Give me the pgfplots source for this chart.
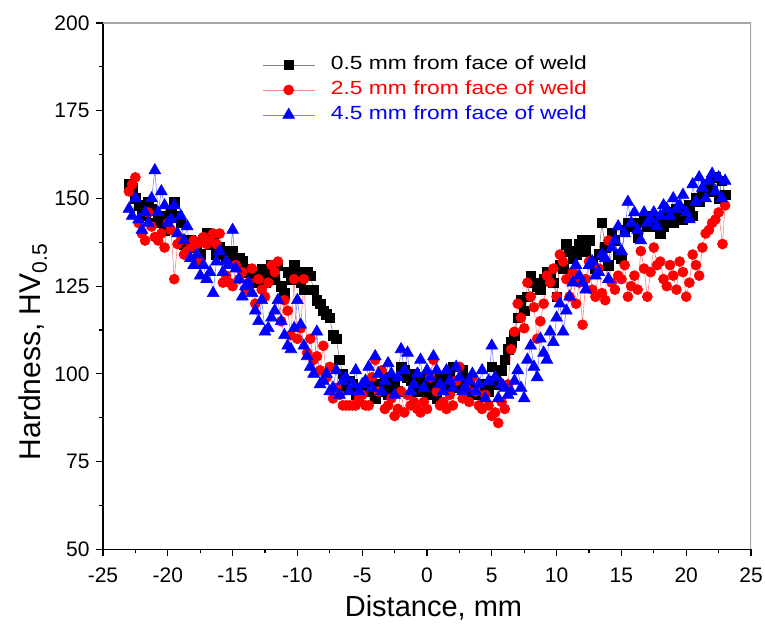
\documentclass[border=0pt]{standalone}
\usepackage{pgfplots}
\pgfplotsset{compat=1.18}
\usepackage{fontspec}
\setmainfont{Liberation Sans}
\newfontfamily\legfont[FakeStretch=1.2]{Liberation Sans}
\begin{document}
\begin{tikzpicture}
\path[use as bounding box] (-103pt,-80pt) rectangle (662pt,549.3pt);
\begin{axis}[
  scale only axis, width=648pt, height=526.3pt,
  xmin=-25, xmax=25, ymin=50, ymax=200,
  xtick={-25,-20,...,25}, ytick={50,75,...,200},
  minor x tick num=1, minor y tick num=1,
  axis x line*=bottom, axis y line*=left,
  axis line style={line width=1.4pt, black},
  tick align=outside, major tick length=7pt, minor tick length=4pt,
  every tick/.style={black, line width=1.2pt},
  tick label style={font=\fontsize{21}{21}\selectfont},
  /pgf/number format/assume math mode=true,
  xticklabel style={yshift=-8pt},
  yticklabel style={xshift=-3pt},
  xlabel={Distance, mm},
  ylabel={Hardness, HV\textsubscript{0.5}},
  xlabel style={font=\fontsize{29}{29}\selectfont, at={(axis description cs:0.51,-0.112)}, anchor=center},
  ylabel style={font=\fontsize{30}{30}\selectfont, at={(axis description cs:-0.108,0.375)}, anchor=center},
  legend style={at={(axis description cs:0.241,0.943)}, anchor=north west, draw=none, fill=none,
    font=\legfont\fontsize{19}{19}\selectfont, row sep=5.5pt, column sep=15pt,
    nodes={inner sep=1pt, text height=13.5pt, text depth=4pt}},
  legend cell align=left,
  legend image code/.code={\draw[mark repeat=2,mark phase=2,#1] plot coordinates {(0pt,0pt) (26pt,0pt) (52pt,0pt)};},
]
\draw[line width=1.2pt, black!35] (rel axis cs:0,1) -- (rel axis cs:1,1) -- (rel axis cs:1,0);
\addplot[color=black!50, line width=0.6pt, mark=square*, mark size=4.8pt, mark options={black, fill=black, solid}] table {
x y
-23 154
-22.75 153
-22.5 150
-22.25 148
-22 146
-21.75 145
-21.5 149
-21.25 147
-21 143
-20.75 144
-20.5 145
-20.25 141
-20 142
-19.75 146
-19.5 149
-19.25 145
-19 143
-18.75 137
-18.5 138
-18.25 138
-18 136
-17.75 137
-17.5 134
-17.25 138
-17 140
-16.75 137
-16.5 139
-16.25 134
-16 136
-15.75 135
-15.5 133
-15.25 132
-15 135
-14.75 131
-14.5 133
-14.25 132
-14 130
-13.75 129
-13.5 128
-13.25 126
-13 128
-12.75 130
-12.5 126
-12.25 129
-12 131
-11.75 127
-11.5 131
-11.25 125
-11 123
-10.75 129
-10.5 127
-10.25 131
-10 129
-9.75 126
-9.5 124
-9.25 129
-9 128
-8.75 124
-8.5 121
-8.25 120
-8 118
-7.75 117
-7.5 116
-7.25 111
-7 110
-6.75 104
-6.5 100
-6.25 96
-6 98
-5.75 97
-5.5 94
-5.25 93
-5 96
-4.75 95
-4.5 96
-4.25 98
-4 93
-3.75 95
-3.5 97
-3.25 99
-3 94
-2.75 96
-2.5 98
-2.25 95
-2 102
-1.75 101
-1.5 99
-1.25 98
-1 100
-0.75 95
-0.5 97
-0.25 99
0 94
0.25 96
0.5 97
0.75 93
1 99
1.25 97
1.5 96
1.75 100
2 102
2.25 96
2.5 98
2.75 101
3 97
3.25 98
3.5 95
3.75 94
4 96
4.25 97
4.5 97
4.75 95
5 102
5.25 98
5.5 97
5.75 101
6 104
6.25 107
6.5 109
6.75 111
7 116
7.25 121
7.5 118
7.75 122
8 128
8.25 126
8.5 125
8.75 124
9 127
9.25 129
9.5 128
9.75 126
10 122
10.25 131
10.5 130
10.75 137
11 135
11.25 133
11.5 134
11.75 137
12 138
12.25 135
12.5 138
12.75 132
13 130
13.25 134
13.5 143
13.75 136
14 131
14.25 140
14.5 138
14.75 134
15 133
15.25 141
15.5 143
15.75 142
16 143
16.25 139
16.5 143
16.75 144
17 142
17.25 145
17.5 142
17.75 143
18 140
18.25 142
18.5 145
18.75 146
19 143
19.25 147
19.5 146
19.75 144
20 147
20.25 148
20.5 145
20.75 150
21 149
21.25 151
21.5 154
21.75 153
22 152
22.25 156
22.5 150
22.75 155
23 151
};
\addlegendentry[text=black]{0.5 mm from face of weld}
\addplot[color=red!50, line width=0.6pt, mark=*, mark size=5pt, mark options={red, fill=red, solid}] table {
x y
-23 152
-22.75 154
-22.5 156
-22.25 143
-22 140
-21.75 138
-21.5 146
-21.25 142
-21 139
-20.75 138
-20.5 140
-20.25 136
-20 143
-19.75 141
-19.5 127
-19.25 137
-19 138
-18.75 134
-18.5 135
-18.25 136
-18 138
-17.75 137
-17.5 132
-17.25 139
-17 137
-16.75 138
-16.5 140
-16.25 137
-16 140
-15.75 126
-15.5 128
-15.25 126
-15 125
-14.75 131
-14.5 127
-14.25 129
-14 124
-13.75 126
-13.5 130
-13.25 120
-13 127
-12.75 124
-12.5 122
-12.25 126
-12 131
-11.75 129
-11.5 132
-11.25 115
-11 121
-10.75 118
-10.5 111
-10.25 127
-10 110
-9.75 113
-9.5 127
-9.25 106
-9 110
-8.75 104
-8.5 105
-8.25 101
-8 108
-7.75 99
-7.5 102
-7.25 93
-7 96
-6.75 94
-6.5 91
-6.25 91
-6 91
-5.75 91
-5.5 91
-5.25 93
-5 94
-4.75 91
-4.5 91
-4.25 99
-4 104
-3.75 95
-3.5 101
-3.25 90
-3 91
-2.75 93
-2.5 88
-2.25 90
-2 95
-1.75 89
-1.5 94
-1.25 91
-1 92
-0.75 90
-0.5 89
-0.25 92
0 90
0.25 99
0.5 104
0.75 95
1 91
1.25 92
1.5 90
1.75 94
2 91
2.25 98
2.5 102
2.75 93
3 96
3.25 92
3.5 99
3.75 95
4 91
4.25 90
4.5 94
4.75 91
5 88
5.25 89
5.5 86
5.75 92
6 90
6.25 97
6.5 107
6.75 112
7 120
7.25 116
7.5 113
7.75 126
8 122
8.25 119
8.5 110
8.75 115
9 120
9.25 128
9.5 126
9.75 130
10 122
10.25 134
10.5 132
10.75 127
11 122
11.25 129
11.5 120
11.75 126
12 114
12.25 127
12.5 132
12.75 124
13 122
13.25 130
13.5 123
13.75 121
14 138
14.25 126
14.5 124
14.75 128
15 127
15.25 131
15.5 122
15.75 125
16 128
16.25 124
16.5 135
16.75 130
17 122
17.25 129
17.5 136
17.75 131
18 132
18.25 127
18.5 125
18.75 131
19 128
19.25 124
19.5 132
19.75 129
20 122
20.25 126
20.5 134
20.75 131
21 128
21.25 136
21.5 140
21.75 141
22 143
22.25 144
22.5 146
22.8 137
23 148
};
\addlegendentry[text=red]{2.5 mm from face of weld}
\addplot[color=blue!50, line width=0.6pt, mark=triangle*, mark size=6.8pt, mark options={blue, fill=blue, solid}] table {
x y
-23 147
-22.75 145
-22.5 150
-22.25 144
-22 141
-21.75 146
-21.5 143
-21.25 150
-21 158
-20.75 146
-20.5 152
-20.25 148
-20 143
-19.75 144
-19.5 148
-19.25 140
-19 145
-18.75 138
-18.5 142
-18.25 133
-18 131
-17.75 134
-17.5 128
-17.25 131
-17 127
-16.75 129
-16.5 123
-16.25 132
-16 135
-15.75 129
-15.5 132
-15.25 131
-15 141
-14.75 130
-14.5 127
-14.25 122
-14 125
-13.75 126
-13.5 123
-13.25 118
-13 115
-12.75 121
-12.5 112
-12.25 113
-12 116
-11.75 118
-11.5 121
-11.25 115
-11 111
-10.75 108
-10.5 107
-10.25 113
-10 121
-9.75 114
-9.5 108
-9.25 105
-9 102
-8.75 100
-8.5 112
-8.25 97
-8 98
-7.75 100
-7.5 95
-7.25 96
-7 101
-6.75 94
-6.5 98
-6.25 99
-6 95
-5.75 97
-5.5 101
-5.25 95
-5 97
-4.75 98
-4.5 102
-4.25 96
-4 105
-3.75 100
-3.5 95
-3.25 98
-3 103
-2.75 100
-2.5 94
-2.25 99
-2 107
-1.75 101
-1.5 106
-1.25 95
-1 97
-0.75 100
-0.5 104
-0.25 96
0 101
0.25 99
0.5 105
0.75 101
1 97
1.25 95
1.5 101
1.75 98
2 96
2.25 102
2.5 99
2.75 95
3 96
3.25 98
3.5 100
3.75 95
4 97
4.25 101
4.5 93
4.75 98
5 108
5.25 99
5.5 93
5.75 97
6 96
6.25 94
6.5 95
6.75 98
7 101
7.25 96
7.5 93
7.75 104
8 108
8.25 102
8.5 99
8.75 110
9 106
9.25 104
9.5 112
9.75 109
10 116
10.25 120
10.5 112
10.75 118
11 122
11.25 126
11.5 131
11.75 128
12 126
12.25 124
12.5 131
12.75 132
13 128
13.25 129
13.5 134
13.75 133
14 127
14.25 136
14.5 138
14.75 142
15 135
15.25 140
15.5 149
15.75 143
16 146
16.25 141
16.5 138
16.75 146
17 143
17.25 144
17.5 146
17.75 142
18 145
18.25 148
18.5 147
18.75 145
19 150
19.25 147
19.5 148
19.75 151
20 146
20.25 144
20.5 154
20.75 149
21 156
21.25 153
21.5 150
21.75 155
22 157
22.25 152
22.5 156
22.75 150
23 155
};
\addlegendentry[text=blue]{4.5 mm from face of weld}
\end{axis}
\end{tikzpicture}
\end{document}
